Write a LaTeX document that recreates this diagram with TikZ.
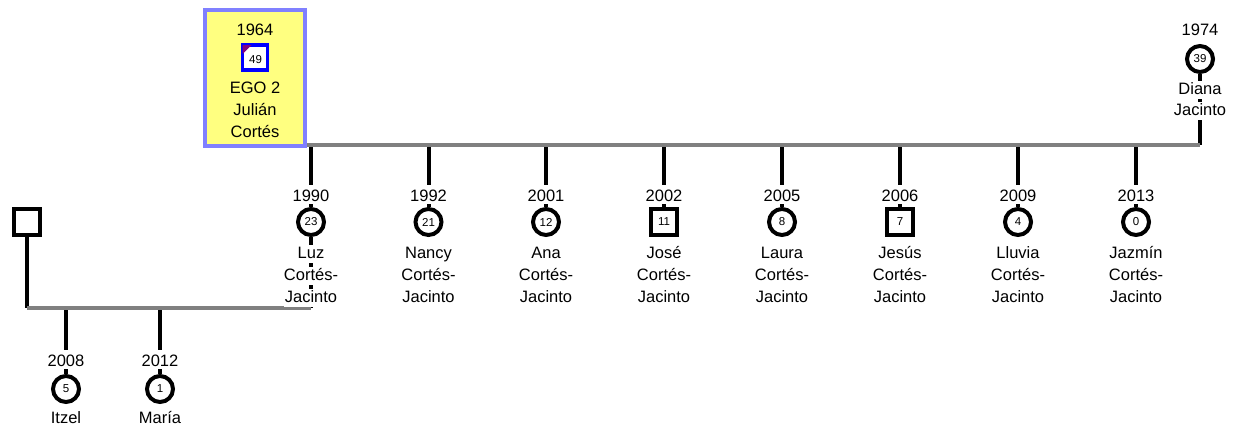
\documentclass[tikz,border=0pt]{standalone}
\usepackage{fontspec}
\setmainfont{Liberation Sans}
\usetikzlibrary{backgrounds}
\definecolor{egoyellow}{RGB}{255,255,128}
\definecolor{egoborder}{RGB}{128,128,255}
\definecolor{egosqc}{RGB}{0,0,255}
\definecolor{egotri}{RGB}{128,0,128}
\definecolor{greyc}{RGB}{128,128,128}
\begin{document}
\begin{tikzpicture}[x=1pt,y=-1pt,
  yeartxt/.style={anchor=base, fill=white, inner xsep=1pt, inner ysep=2pt, text height=15pt, text depth=0pt, font=\fontsize{16.5}{20}\selectfont},
  nametxt/.style={anchor=base, fill=white, inner xsep=1pt, inner ysep=0.5pt, text height=13pt, text depth=4pt, font=\fontsize{16.5}{20}\selectfont},
  egotxt/.style={anchor=base, inner sep=0pt, font=\fontsize{16.5}{20}\selectfont},
  fem/.style={circle, draw=black, line width=4pt, fill=white, minimum size=26pt, inner sep=0pt, font=\fontsize{11.5}{13}\selectfont},
  mal/.style={rectangle, draw=black, line width=4pt, fill=white, minimum size=26pt, inner sep=0pt, font=\fontsize{11.5}{13}\selectfont},
  kid/.style={line width=4pt, black},
  greyline/.style={line width=4pt, greyc}]
\useasboundingbox (0,0) rectangle (1238,428);

% EGO
\node[draw=egoborder, line width=3.5pt, fill=egoyellow, minimum width=100pt, minimum height=136pt, inner sep=0pt] (ego) at (255,78) {};
\node[egotxt] (egoyr) at (255,36) {1964};
\node[draw=egosqc, line width=3.5pt, fill=white, minimum size=25pt, inner sep=0pt] (egsq) at (255,57.5) {};
\fill[egotri] ([shift={(1.8,1.8)}]egsq.north west) -- ++(9,0) -- ++(-9,9) -- cycle;
\node[inner sep=0pt, font=\fontsize{11.5}{13}\selectfont] (egnum) at (255.5,59.5) {49};
\node[egotxt] (egl1) at (255,93.5) {EGO 2};
\node[egotxt] (egl2) at (255,115) {Julián};
\node[egotxt] (egl3) at (255,137) {Cortés};

\coordinate (topR) at (1200,145);
\coordinate (topL) at (ego.east |- topR);

% Diana
\node[fem] (dia) at (1200,59) {39};
\node[yeartxt] (diayr) at (1200,36) {1974};
\node[nametxt] (dian1) at (1200,94) {Diana};
\node[nametxt] (dian2) at (1200,115) {Jacinto};

% children
\foreach \x/\yr/\age/\shp/\nm/\id in {311/1990/23/fem/Luz/1, 428.5/1992/21/fem/Nancy/2, 546/2001/12/fem/Ana/3, 664/2002/11/mal/José/4, 782/2005/8/fem/Laura/5, 900/2006/7/mal/Jesús/6, 1018/2009/4/fem/Lluvia/7, 1136/2013/0/fem/Jazmín/8}{
  \coordinate (d\id) at (\x,145);
  \node[\shp] (s\id) at (\x,222) {\age};
  \node[yeartxt] (y\id) at (\x,201.5) {\yr};
  \node[nametxt] (na\id) at (\x,258.5) {\nm};
  \node[nametxt] (nb\id) at (\x,280.5) {Cortés-};
  \node[nametxt] (nc\id) at (\x,302) {Jacinto};
  \begin{scope}[on background layer]
    \draw[kid] (d\id) -- (s\id);
  \end{scope}
}

% lower family
\node[mal] (lsq) at (27,222) {};
\coordinate (lowL) at (27,308);
\coordinate (lowR) at (311,308);
\coordinate (e1) at (66,308);
\coordinate (e2) at (160,308);
\node[fem] (itz) at (66,389) {5};
\node[yeartxt] (itzyr) at (66,366.5) {2008};
\node[nametxt] (itzn) at (66,423) {Itzel};
\node[fem] (mar) at (160,389) {1};
\node[yeartxt] (maryr) at (160,366.5) {2012};
\node[nametxt] (marn) at (160,423) {María};

\begin{scope}[on background layer]
  \draw[kid] (dia) -- (topR);
  \draw[kid] (s1) -- (lowR);
  \draw[kid] (lsq) -- (lowL);
  \draw[kid] (e1) -- (itz);
  \draw[kid] (e2) -- (mar);
  \draw[greyline] (topL) -- (topR);
  \draw[greyline] (lowL) -- (lowR);
\end{scope}
\end{tikzpicture}
\end{document}
